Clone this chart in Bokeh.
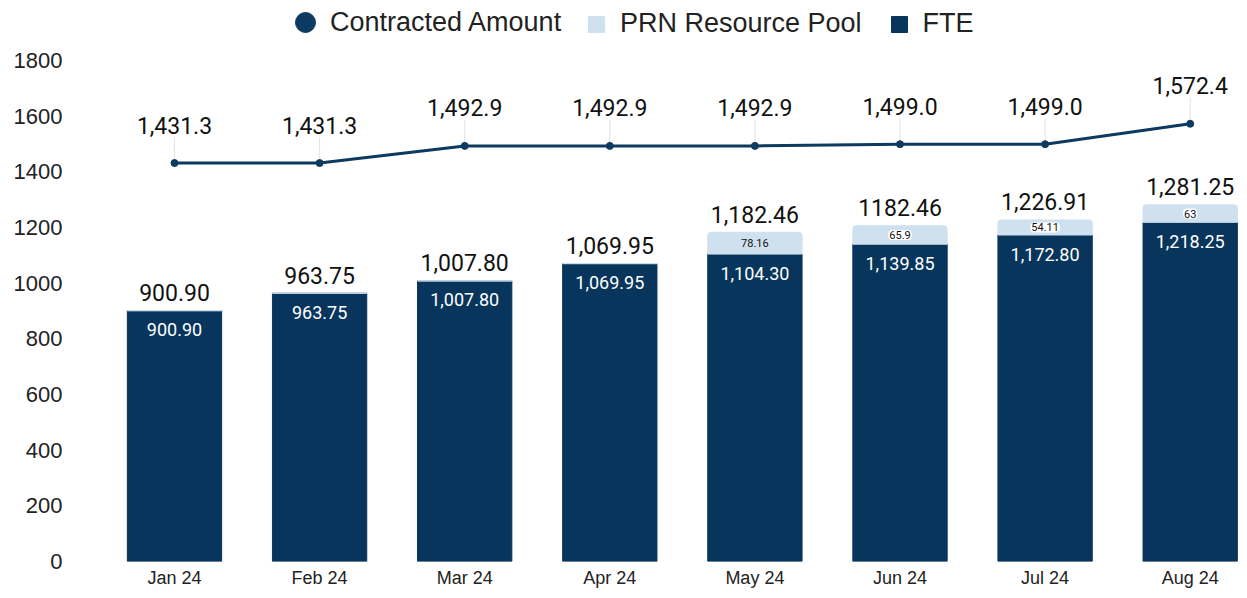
from bokeh.plotting import figure
from bokeh.models import ColumnDataSource, Range1d, FixedTicker, Legend, LegendItem
from bokeh.core.properties import value
from bokeh.embed import file_html
from bokeh.resources import INLINE

months = ["Jan 24", "Feb 24", "Mar 24", "Apr 24", "May 24", "Jun 24", "Jul 24", "Aug 24"]
fte = [900.90, 963.75, 1007.80, 1069.95, 1104.30, 1139.85, 1172.80, 1218.25]
prn = [0, 0, 0, 0, 78.16, 65.9, 54.11, 63]
total_labels = ["900.90", "963.75", "1,007.80", "1,069.95", "1,182.46", "1182.46", "1,226.91", "1,281.25"]
fte_labels = ["900.90", "963.75", "1,007.80", "1,069.95", "1,104.30", "1,139.85", "1,172.80", "1,218.25"]
prn_labels = ["", "", "", "", "78.16", "65.9", "54.11", "63"]
contracted = [1431.3, 1431.3, 1492.9, 1492.9, 1492.9, 1499.0, 1499.0, 1572.4]
contracted_labels = ["1,431.3", "1,431.3", "1,492.9", "1,492.9", "1,492.9", "1,499.0", "1,499.0", "1,572.4"]
y_ticks = [0, 200, 400, 600, 800, 1000, 1200, 1400, 1600, 1800]

NAVY = "#08355c"
LIGHT = "#cfe0ef"
LINE = "#0d3a60"

W, H = 1239, 590
FRAME_BOTTOM = 562
FRAME_LEFT = 78
x = list(range(len(months)))
top = [f + p for f, p in zip(fte, prn)]
prn_mid = [f + p / 2 for f, p in zip(fte, prn)]

scale = (FRAME_BOTTOM - 60) / 1800.0   # px per data unit
y_end = FRAME_BOTTOM / scale
lead_top = [c + 26 / scale for c in contracted]
pill = ["white" if (lbl and lbl != "78.16") else None for lbl in prn_labels]

src = ColumnDataSource(dict(x=x, fte=fte, top=top, prn_mid=prn_mid, tl=total_labels,
                            fl=fte_labels, pl=prn_labels, c=contracted, cl=contracted_labels,
                            lt=lead_top, pill=pill))

p = figure(width=W, height=H, output_backend="svg", toolbar_location=None,
           x_range=Range1d(-0.6616, (W - 174) / 145.1), y_range=Range1d(0, y_end),
           min_border_left=FRAME_LEFT, min_border_right=0, min_border_top=0,
           min_border_bottom=H - FRAME_BOTTOM)
p.outline_line_color = None
p.grid.visible = False
p.background_fill_color = "white"

fte_r = p.vbar(x="x", top="fte", bottom=0, width=0.65, color=NAVY, source=src)
prn_r = p.vbar(x="x", top="top", bottom="fte", width=0.65, color=LIGHT, source=src)
try:
    prn_r.glyph.border_radius = (3, 3, 0, 0)
except Exception:
    pass

p.segment(x0="x", y0="c", x1="x", y1="lt", line_color="#e2e2e2", line_width=1, source=src)
p.line(x="x", y="c", line_color=LINE, line_width=3, source=src)
dot_r = p.scatter(x="x", y="c", size=7, color=LINE, source=src)

p.text(x="x", y="c", text="cl", y_offset=-38, text_align="center", text_baseline="middle",
       text_font=value("Roboto"), text_font_size="23px", text_color="#111111", source=src)
p.text(x="x", y="top", text="tl", y_offset=-18, text_align="center", text_baseline="middle",
       text_font=value("Roboto"), text_font_size="23px", text_color="#111111", source=src)
p.text(x="x", y="fte", text="fl", y_offset=19, text_align="center", text_baseline="middle",
       text_font=value("Roboto"), text_font_size="18px", text_color="white", source=src)
pr = p.text(x="x", y="prn_mid", text="pl", text_align="center", text_baseline="middle",
            text_font=value("Roboto"), text_font_size="11px", text_color="#111111", source=src)
try:
    pr.glyph.background_fill_color = "pill"
    pr.glyph.padding = 1
    pr.glyph.border_radius = 4
except Exception:
    pass

# axes
p.xaxis.ticker = FixedTicker(ticks=x)
p.xaxis.major_label_overrides = {i: m for i, m in enumerate(months)}
p.yaxis.ticker = FixedTicker(ticks=y_ticks)
for ax in (p.xaxis, p.yaxis):
    ax.axis_line_color = None
    ax.major_tick_line_color = None
    ax.minor_tick_line_color = None
    ax.major_tick_out = 0
    ax.major_tick_in = 0
    ax.major_label_text_font = "Liberation Sans"
    ax.major_label_text_color = "#222222"
p.xaxis.major_label_text_font_size = "18px"
p.xaxis.major_label_standoff = 6
p.yaxis.major_label_text_font_size = "22px"
p.yaxis.major_label_standoff = 16


def style_legend(lg):
    lg.label_text_font = "Liberation Sans"
    lg.label_text_font_size = "27px"
    lg.label_text_color = "#222222"
    lg.border_line_color = None
    lg.background_fill_alpha = 0
    lg.padding = 0
    lg.margin = 0
    lg.orientation = "horizontal"


# circle legend item: big glyph box so the marker is drawn ~20px wide
leg_a = Legend(items=[LegendItem(label="Contracted Amount", renderers=[dot_r])],
               location=(280 - FRAME_LEFT, FRAME_BOTTOM - 48))
style_legend(leg_a)
leg_a.glyph_width = 50
leg_a.glyph_height = 50
leg_a.label_standoff = 0
p.add_layout(leg_a, "center")

leg_b = Legend(items=[
    LegendItem(label="PRN Resource Pool", renderers=[prn_r]),
    LegendItem(label="FTE", renderers=[fte_r]),
], location=(586 - FRAME_LEFT, FRAME_BOTTOM - 40))
style_legend(leg_b)
leg_b.glyph_width = 20
leg_b.glyph_height = 20
leg_b.spacing = 27
leg_b.label_standoff = 14
p.add_layout(leg_b, "center")

open("out.html", "w").write(file_html(p, INLINE))
